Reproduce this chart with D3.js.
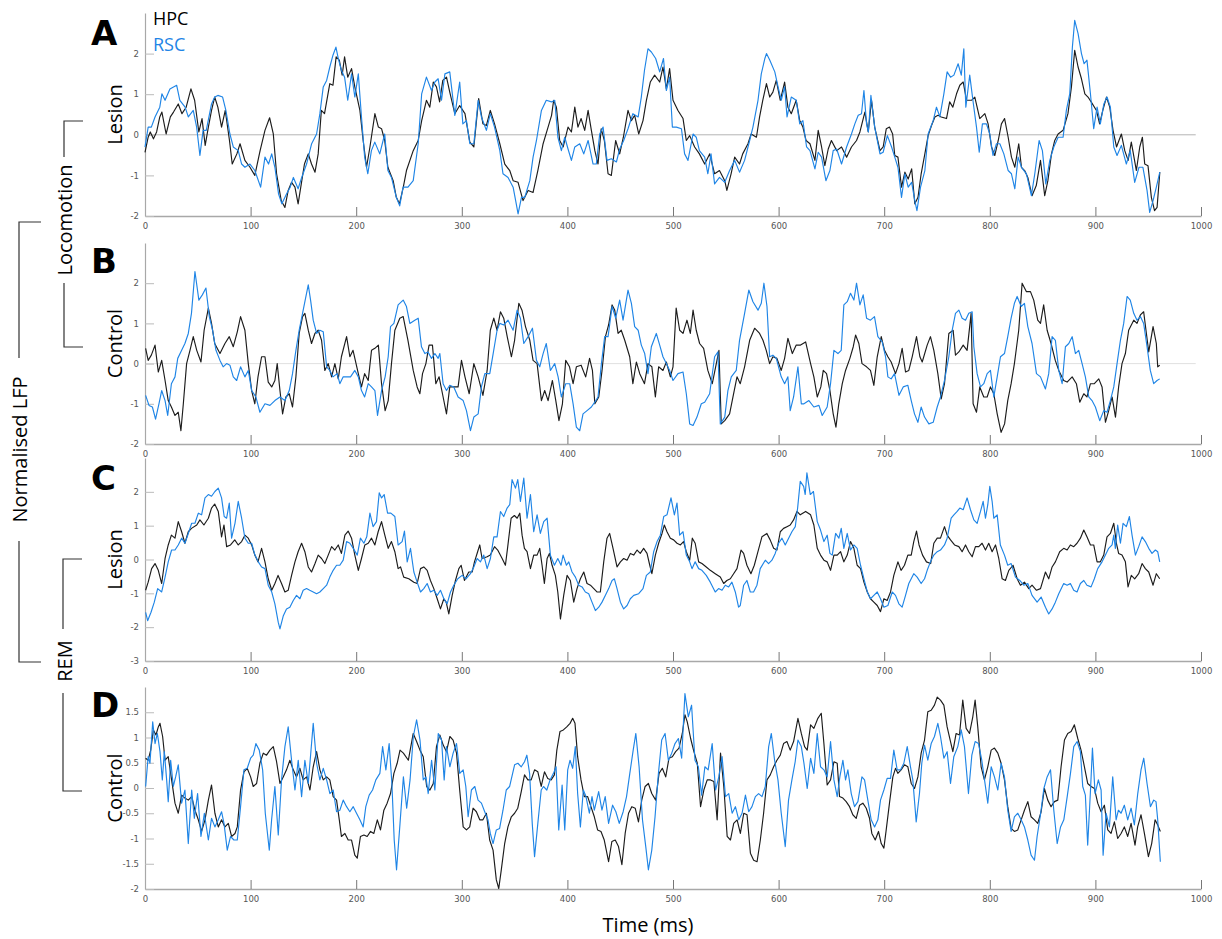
<!DOCTYPE html>
<html>
<head>
<meta charset="utf-8">
<script src="https://cdn.jsdelivr.net/npm/d3@7"></script>
<style>
  body { margin: 0; background: #fff; }
  svg { display: block; }
</style>
</head>
<body>
<div id="chart"></div>
<script>
// LFP traces, [time (ms), normalised value]

// A: locomotion, lesion
let lesionLocoHpc = [[0,-0.43],[3,-0.06],[5,0.07],[8,-0.1],[11,0.07],[14,0.44],[16,0.56],[20,0.02],[24,0.44],[27,0.56],[31.5,0.76],[35,0.52],[39,0.68],[43.5,1.13],[47,0.85],[51,0.07],[54,0.4],[57,-0.26],[60,0.19],[63,0.6],[66,0.93],[69,0.68],[72.5,0.19],[76,0.6],[80,-0.14],[82.6,-0.72],[87,-0.47],[90,-0.22],[94.6,-0.63],[99.4,-0.8],[104,-1.0],[109,-0.39],[113.6,0.11],[118,0.42],[121.5,0.02],[124.6,-0.96],[129,-1.62],[132.5,-1.79],[135.6,-1.37],[138.8,-1.17],[142,-1.29],[145,-1.7],[148,-1.21],[151,-0.72],[154.6,-0.47],[157.7,-0.72],[161,-0.92],[164,-0.47],[167,0.6],[170,0.52],[175,1.26],[178,1.22],[181,1.92],[184,1.84],[186.7,1.47],[189,1.92],[192,1.42],[195.6,1.63],[198.7,1.18],[203.5,0.6],[206.6,-0.14],[209.8,-0.8],[213,-0.3],[217.7,0.52],[221,0.19],[224,0.15],[227,-0.14],[230,-0.8],[235,-1.13],[238,-1.54],[241,-1.7],[244.6,-1.29],[247.6,-0.88],[254,-0.39],[258.7,-0.14],[262,0.35],[266.5,0.85],[269.7,0.68],[273,1.3],[276,1.18],[279,0.81],[282,1.34],[285.5,1.42],[288.6,1.05],[293.4,0.52],[298,0.72],[303,0.52],[307.6,-0.18],[311.4,-0.3],[316,0.89],[320,0.27],[323.3,0.23],[327,0.6],[331,0.27],[336,-0.22],[340.7,-0.72],[345.4,-0.88],[348.6,-1.13],[353.3,-1.17],[358,-1.62],[362.8,-1.37],[367.5,-1.42],[372,-0.88],[377,-0.22],[381.7,0.19],[385,0.48],[387,0.85],[389.6,0.68],[392.7,-0.14],[396,-0.3],[400.6,0.19],[403.8,0.07],[407,0.68],[410,0.19],[413,0.4],[416.4,0.11],[419.6,0.6],[422.7,0.11],[426,-0.39],[429,-0.72],[432,0.15],[435,-0.14],[438.5,-0.96],[441.6,-1.0],[445.7,-0.14],[449.5,-0.47],[453,-0.06],[457.4,0.6],[460.6,0.35],[463.7,0.48],[467.5,0.02],[471.6,0.35],[474.8,0.85],[478.5,1.3],[482.6,1.47],[487.4,1.3],[490.5,1.67],[493.7,1.13],[496.8,1.63],[500,0.85],[504.7,0.6],[509.5,0.4],[512.6,-0.14],[515.8,-0.02],[520.5,-0.3],[525,-0.47],[530,-0.72],[534.7,-0.47],[539.4,-0.96],[544,-0.88],[549,-1.13],[551,-1.37],[555,-0.96],[558.4,-0.55],[563,-0.72],[566,-0.47],[571,-0.22],[574,0.02],[579,-0.06],[582,0.44],[585,0.85],[588.5,1.26],[591.6,0.93],[594.6,1.05],[597.8,1.34],[601.6,0.85],[605.7,1.3],[608.8,0.68],[612,0.52],[616.7,0.85],[620,0.35],[623,0.19],[626,-0.14],[629.7,-0.22],[634.4,-0.63],[637.5,0.11],[640.7,-0.3],[643.8,-0.76],[647,-0.35],[650,-0.14],[655,-0.39],[659.6,-0.3],[664.4,-0.55],[669,-0.3],[673.8,-0.14],[677,0.07],[681.7,0.56],[684.9,0.07],[688,0.85],[691,0.19],[696,-0.39],[699,-0.3],[702,0.15],[705,0.19],[708,0.02],[710,-0.51],[713,-0.55],[716.4,-1.29],[719.6,-0.92],[722.7,-1.09],[726,-0.84],[729,-1.7],[732,-1.54],[735,-0.96],[738.5,-0.47],[741.6,-0.02],[744.8,0.23],[748,0.44],[751,0.48],[754,0.44],[759,0.4],[762,0.81],[765,0.68],[768.5,1.01],[771.6,1.22],[774.8,1.3],[778,0.85],[782.6,0.85],[785.8,0.93],[790.5,0.4],[795.3,0.52],[798.4,0.27],[801.6,-0.3],[804.7,-0.51],[808,-0.14],[811,0.27],[814,0.4],[817.4,-0.06],[820.5,-0.55],[823.7,-0.8],[827.4,-0.22],[830,-0.8],[833,-0.88],[836,-1.05],[840,-1.5],[844,-1.25],[848,-0.63],[852,-1.5],[855,-1.13],[858.4,-0.47],[861.5,-0.14],[864.7,0.02],[869.4,0.11],[874,0.52],[877.3,1.18],[880.4,2.08],[883.6,1.67],[886.8,1.38],[890,1.01],[893,0.93],[896,0.81],[901,0.6],[904,0.27],[907,0.6],[910.5,0.93],[913.6,0.68],[916.7,0.11],[920,-0.3],[924.6,0.02],[927.8,-0.39],[931,-0.63],[934,-0.18],[938.8,-0.88],[942,-0.3],[944.5,-0.06],[946.7,-0.72],[949.8,-0.76],[953,-1.54],[956,-1.87],[958.4,-1.79],[961,-0.92]];
let lesionLocoRsc = [[0,-0.3],[3,0.19],[6,0.19],[9.5,0.44],[14,0.68],[16,1.01],[19,0.85],[23.6,1.13],[27,1.18],[30,1.22],[33,0.85],[38,0.68],[41,0.44],[45.7,0.6],[48.9,0.19],[52,-0.51],[55,0.11],[58,0.11],[63,0.76],[66,0.93],[69,0.97],[73.5,0.93],[76.6,0.6],[80.4,0.02],[83.6,-0.3],[88.3,-0.39],[91.5,-0.72],[94.6,-0.8],[99.4,-0.72],[104,-0.88],[109.5,-1.29],[113.6,-0.55],[117,-0.72],[120,-0.47],[123,-0.8],[126.5,-1.46],[129.6,-1.7],[134,-1.46],[137.5,-1.29],[140.5,-1.05],[145,-1.33],[148.4,-1.05],[153,-0.72],[157.8,-0.22],[162.5,0.02],[165.6,0.52],[168.8,1.18],[172,1.34],[175,1.67],[178,1.96],[180.8,2.16],[183,1.88],[186,1.59],[189,1.42],[192,0.85],[195.6,1.5],[198.7,0.93],[202,1.5],[205,0.44],[208,-0.55],[211,-0.96],[214.4,-0.39],[217.6,-0.18],[222.3,-0.47],[227,0.02],[230,-0.88],[233.4,-1.05],[238,-1.54],[241.2,-1.75],[244.4,-1.29],[249,-1.29],[254,-1.13],[258.7,-0.22],[262,1.01],[266.5,1.42],[271.3,1.09],[274.5,1.3],[277.6,1.38],[280.8,0.85],[284,1.5],[288.6,1.55],[293.4,0.48],[298,1.3],[301,0.27],[304.4,0.35],[307.6,-0.22],[311.4,-0.22],[315.5,0.85],[318.6,0.44],[323.3,0.11],[327,0.52],[331,0.19],[336,-0.39],[339,-0.96],[343.8,-1.05],[348.6,-1.29],[351,-1.62],[353.3,-1.95],[356.5,-1.54],[359.6,-1.54],[364.4,-1.13],[367.5,-0.55],[370.7,-0.14],[375.4,0.6],[380,0.85],[385,0.81],[388,0.85],[391,-0.06],[394.3,-0.39],[397.5,-0.06],[400.6,-0.35],[403.8,-0.63],[407,-0.3],[411.7,-0.22],[415.5,-0.47],[419.6,-0.14],[424.3,-0.72],[427.4,-0.72],[430.6,0.02],[433.8,0.19],[437.5,-0.63],[441.6,-0.59],[446.4,-0.67],[449.5,-0.35],[453.3,-0.14],[457.4,0.15],[462,0.52],[467,0.44],[470,0.93],[473,1.59],[476.3,2.12],[479.5,2.04],[483.6,1.88],[487.4,1.55],[491,1.88],[493.7,1.09],[496.8,1.42],[499.4,0.19],[503.2,0.19],[508,0.15],[511,-0.47],[514.2,-0.63],[519,0.02],[522,-0.06],[525,-0.39],[530,-0.55],[533,-0.96],[536,-0.47],[539.4,-1.21],[544,-1.05],[549,-1.17],[553.6,-0.88],[558.4,-0.63],[563,-0.92],[567.8,-0.63],[572.6,-0.14],[575.7,0.19],[580.5,0.85],[583.6,1.5],[587,1.88],[588.5,2.0],[591.6,1.84],[596.4,1.55],[599.5,1.18],[602.5,0.85],[605.7,1.18],[608,0.44],[612,0.93],[616.7,0.85],[620,0.27],[623,0.35],[626.5,-0.3],[629.7,-0.39],[634.4,-0.84],[637.5,-0.43],[640.7,-0.55],[644.8,-1.13],[648.6,-0.88],[651.7,-0.39],[655,-0.35],[659.6,-0.72],[664.4,-0.3],[669,0.02],[672.2,0.27],[675.4,0.48],[678.5,0.52],[680.8,1.09],[683.3,0.27],[685,0.07],[687.4,0.97],[691,0.19],[696,-0.47],[699,-0.43],[703,-0.02],[707,-0.3],[710,-0.55],[713,-0.8],[716.4,-1.54],[719.6,-0.96],[722.7,-1.29],[726,-1.17],[729,-1.62],[731,-1.87],[734.4,-1.29],[738.5,-0.88],[741.6,0.02],[746.4,0.35],[749.5,0.68],[752.7,0.44],[756.5,1.01],[759.6,1.55],[762.8,1.42],[766,1.47],[770,1.75],[773,1.47],[775.4,2.12],[777.3,0.68],[781,1.47],[784,0.85],[787.4,0.19],[790,-0.43],[793,0.27],[796.8,0.27],[800,0.02],[803,-0.51],[806.3,-0.22],[809.5,-0.22],[813.3,-0.47],[817.4,-0.88],[820.5,-0.96],[823.7,-1.33],[826.8,-0.55],[830,-0.8],[834.7,-0.96],[839.4,-1.5],[842.6,-0.96],[846.7,-0.14],[849.8,-0.39],[853,-1.21],[856.8,-0.63],[860.6,-0.3],[864.7,-0.06],[869.4,-0.06],[872.5,0.6],[875.7,1.01],[878.2,2.16],[880.4,2.82],[883.6,2.49],[886.8,2.0],[889.3,1.75],[892,1.84],[895.3,1.01],[898.4,0.15],[901.6,0.68],[904.7,0.27],[908,0.76],[911,0.93],[914.2,0.68],[917.4,-0.3],[920.5,-0.51],[924.6,-0.26],[929.3,-0.72],[933,-0.39],[937.2,-1.17],[941.3,-0.8],[945,-0.8],[948.9,-1.37],[951.4,-1.91],[954.6,-1.62],[957.7,-1.29],[961,-0.92]];

// B: locomotion, control
let controlLocoHpc = [[0.6,0.38],[3,0.08],[6,0.21],[9.5,0.46],[12.6,-0.21],[15.8,0.08],[19,-0.42],[22,-0.92],[25,-1.08],[28.4,-1.29],[31.5,-1.21],[34,-1.67],[36.3,-1.0],[39.4,0.0],[42.6,0.33],[45.7,0.67],[49,0.33],[53,0.04],[56,0.83],[60,1.38],[63,1.0],[66,0.5],[71,0.25],[75.7,0.5],[79.8,0.67],[83.6,0.42],[87.4,0.79],[90.5,1.17],[94.6,0.83],[97.8,0.0],[101,-0.67],[104,-1.0],[107,-0.33],[110.4,0.17],[113.6,0.17],[116.7,-0.46],[120,-0.58],[123,-0.42],[125.2,0.0],[127.8,-0.67],[130.3,-1.25],[133.4,-0.83],[136.6,-0.75],[139.7,-1.08],[142.9,-0.33],[146,0.75],[149.2,1.17],[151.4,1.25],[154.6,0.83],[157.7,0.5],[160.9,0.75],[164,0.83],[167.2,0.58],[170.3,-0.17],[173.5,0.0],[176.7,-0.33],[179.8,0.0],[183,-0.38],[186,0.17],[190.9,0.67],[194,0.17],[197,0.33],[202,-0.25],[205,-0.58],[208,-0.25],[211.4,-0.42],[214.5,0.33],[217.7,0.38],[221,0.46],[224,-0.5],[227.4,-1.17],[230.3,-0.92],[233.4,0.0],[236.6,0.83],[241.3,1.13],[244.5,1.17],[249,0.58],[254,-0.17],[257.7,-0.58],[260.3,-0.75],[262.8,-0.25],[266,0.0],[269,0.46],[272.2,0.46],[275.4,-0.5],[278.5,-0.33],[281.7,-0.75],[285.5,-1.25],[288.6,-0.58],[292.4,-0.58],[296.5,-0.58],[299.7,0.08],[303,-0.33],[307,-0.75],[311.4,0.0],[315.5,-0.33],[320,-0.79],[324,-0.17],[327,0.83],[330.3,1.13],[333.4,0.83],[336.6,1.29],[339.7,1.13],[343,0.67],[347,0.17],[350,0.58],[354,1.5],[357,1.33],[360.3,0.92],[364.4,0.58],[367.5,0.08],[371.3,0.0],[375.4,-0.92],[378.5,-0.67],[381.7,-0.92],[385.8,-0.42],[389,-0.92],[392,-1.42],[395.3,-1.0],[398.4,0.08],[402,-0.08],[405.4,-0.5],[408.5,-0.08],[413,-0.04],[417.3,-0.33],[421,0.13],[423.7,-0.17],[426,-1.0],[429.7,-0.83],[432.8,-0.17],[436,0.67],[439,0.96],[442.3,1.46],[444.8,1.33],[448,0.75],[451,0.83],[454.3,0.58],[459,0.17],[462,-0.5],[465.3,0.04],[468.5,-0.25],[473,-0.5],[476.3,0.0],[480,-0.08],[483.3,-0.83],[486.4,-0.08],[490.5,-0.17],[493.7,0.04],[497.5,-0.33],[500,-0.08],[503,1.38],[506.3,0.83],[509.5,0.75],[513.2,1.08],[516.4,0.75],[519,1.33],[522,0.83],[525.2,0.5],[529,0.38],[533,-0.17],[537.2,-0.5],[541,0.0],[543.5,0.33],[545.7,-1.5],[549,-1.42],[553.6,-1.25],[556.8,-0.83],[560.6,-0.33],[563.7,-0.5],[567.8,-0.08],[572.6,0.58],[577.3,0.88],[582,0.75],[585.2,0.58],[588.3,0.33],[591.5,0.0],[594.6,0.17],[598.4,0.13],[602.5,-0.17],[605.7,0.13],[608.8,0.63],[613,0.25],[616.7,0.46],[620.8,0.46],[625.6,0.54],[630.3,0.0],[633.4,-0.33],[636.6,-0.83],[640,-0.58],[642.3,-0.17],[645.4,-0.25],[648.6,-0.67],[651.7,-1.25],[654.3,-1.58],[657,-1.0],[660.3,-0.5],[663.4,-0.17],[667.5,0.13],[670.7,0.42],[672.9,0.71],[676,0.5],[679,0.0],[683.3,-0.08],[687,-0.17],[690.2,-0.54],[693.4,0.17],[697.2,0.67],[700.3,0.33],[703.5,0.17],[706.6,0.04],[710.7,-0.25],[714,0.0],[717,0.38],[720.2,-0.21],[723.3,-0.17],[726.5,0.17],[730.6,0.67],[733.8,0.17],[736,0.04],[740.7,0.46],[743.8,0.67],[747,0.33],[750.8,-0.25],[754,-0.88],[757.1,-0.5],[761.2,0.75],[765.3,0.83],[767.5,0.21],[770.7,0.29],[774.8,0.46],[778.5,0.33],[782.3,1.25],[784.2,-1.0],[787.4,-1.21],[790.5,-0.58],[794.3,-0.83],[797.5,-0.83],[800.6,-0.58],[803.8,-0.75],[807,-1.25],[810.7,-1.71],[814,-1.5],[817,-0.92],[820.2,-0.5],[823.3,0.0],[827.4,0.83],[830.6,2.0],[834.7,1.79],[838.5,1.79],[841.6,1.58],[845.4,1.08],[848,1.0],[851,1.46],[854.3,0.83],[858,0.5],[862,0.08],[865.3,-0.17],[870,-0.42],[873.2,-0.46],[878,-0.33],[882,-0.5],[885.2,-0.96],[889,-0.75],[892,-0.83],[895.3,-0.5],[899,-0.5],[903.2,-0.38],[906.3,-0.58],[909.5,-1.46],[912.6,-1.17],[915.8,-0.83],[919,-1.33],[922,-0.58],[925.2,0.0],[928.4,0.25],[931.5,0.83],[936.3,1.08],[939.4,1.0],[942.6,1.21],[945.7,1.29],[948.3,0.75],[950.5,0.29],[954.6,0.92],[957.7,0.5],[959,-0.08],[960.9,-0.04]];
let controlLocoRsc = [[0.6,-0.79],[3.8,-1.04],[7,-1.08],[10,-1.38],[13.2,-1.0],[15.8,-0.67],[19,-0.92],[21.5,-1.29],[25,-0.5],[28.4,-0.33],[31,0.13],[34.7,0.33],[37.8,0.5],[41,0.75],[44,1.25],[47.3,2.29],[51,1.58],[54.3,1.71],[57.7,1.88],[60.9,1.17],[64,0.83],[67.2,0.33],[71,0.08],[74,-0.08],[77.3,0.0],[80.4,-0.04],[83.6,-0.33],[86.8,-0.42],[90.5,-0.08],[94.6,-0.33],[97.8,-0.17],[101,-0.67],[105,-0.83],[108.8,-1.21],[113.6,-1.0],[118.3,-1.04],[123,-0.92],[127.8,-0.83],[132.5,-0.92],[136.6,-0.67],[139.7,-0.25],[142.9,0.33],[146,0.83],[149.8,1.33],[152.4,1.67],[154.6,1.96],[156.8,1.58],[159.3,1.08],[162.5,0.75],[165.6,0.83],[168.8,0.79],[172,-0.08],[175,-0.17],[178,-0.33],[182,-0.25],[184.5,-0.5],[187.7,-0.33],[191,-0.33],[194.6,-0.33],[198.7,-0.17],[202,-0.33],[205,-0.67],[208,-0.83],[211.4,-0.5],[214.5,-0.58],[217.7,-0.67],[220.2,-1.29],[224,-0.67],[227.4,-0.33],[230.3,0.17],[232.5,0.92],[235.7,1.0],[239.7,1.46],[244.5,1.58],[247.6,1.42],[250.8,1.0],[255.5,1.08],[258.7,1.13],[261.8,0.42],[265,0.25],[268,0.29],[271.3,0.13],[274.5,0.25],[277.6,0.13],[279.2,0.25],[282.3,-0.5],[285.5,-0.67],[288.6,-0.54],[292.4,-0.58],[296.5,-0.83],[301.3,-0.92],[304.4,-1.17],[308.2,-1.67],[311.4,-1.33],[315.5,-1.25],[318.6,-0.58],[321.8,-0.25],[326.5,-0.25],[329.7,0.25],[333.4,0.83],[336,1.0],[339.7,0.96],[343.8,1.08],[348.6,0.83],[352.4,1.33],[355.5,1.13],[358.7,0.5],[362.8,0.67],[366.9,0.88],[370.7,0.08],[373.8,-0.08],[377,0.25],[380,0.5],[383.9,-0.17],[388,0.0],[391.2,-0.33],[394.3,-0.83],[398.4,-0.5],[402.2,-0.5],[405.4,-1.0],[408.5,-1.58],[411.7,-1.67],[414.8,-1.25],[418.6,-1.17],[422.7,-1.08],[425.9,-0.96],[429,-0.83],[432.2,0.0],[435.3,0.67],[438.5,0.67],[442.3,1.42],[445.7,1.13],[449.5,1.58],[452.7,1.08],[457.4,1.83],[460.6,1.5],[463.7,0.92],[467,0.83],[470,0.46],[473.2,0.25],[476.3,-0.25],[479.5,0.42],[484.2,0.75],[487.4,0.46],[490.5,0.17],[493.7,0.0],[496.8,-0.17],[500,-0.42],[504.7,-0.25],[509.5,-0.21],[512.6,-0.75],[515.8,-1.5],[519,-1.54],[522.7,-1.33],[526.8,-1.0],[530,-0.96],[534.7,-0.75],[539.4,0.17],[542.6,0.29],[544.8,-1.5],[549,-1.33],[552,-0.67],[555.2,-0.33],[559.9,-0.17],[563,0.58],[567.8,1.25],[571.8,1.83],[575.7,1.54],[580.5,1.33],[583.6,1.5],[586.1,2.0],[589,1.42],[591.5,0.17],[594.6,0.21],[597.8,0.13],[602.5,-0.33],[605.7,-0.5],[608.8,-0.33],[611,-1.17],[614.2,-0.83],[618.3,-0.08],[621.5,-1.0],[624,-1.0],[628.7,-0.92],[633.4,-1.08],[638.2,-1.04],[641.3,-1.29],[646,-1.08],[649.2,-0.5],[652.4,0.33],[656.2,0.25],[659.3,0.33],[661.8,1.46],[665,1.54],[668.1,1.75],[671.3,1.58],[673.8,2.0],[677,1.46],[680.1,1.71],[683.3,1.13],[687,1.08],[690.8,1.17],[694,0.67],[698.1,0.54],[701.3,0.17],[703.5,-0.33],[706.6,-0.38],[709.8,-0.25],[714,-0.79],[718,-0.58],[722.4,-0.54],[725.6,-0.92],[728.7,-1.25],[731.9,-1.46],[735,-1.08],[738.2,-1.33],[742.3,-1.5],[746.4,-1.46],[750.2,-1.08],[753.3,-0.83],[757.1,-0.42],[761.2,0.17],[764.4,0.83],[767.5,1.25],[770.7,1.33],[773.8,1.13],[777,1.08],[780.1,1.25],[783.3,1.29],[784.9,0.42],[788,-0.25],[791.2,-0.58],[794.3,-0.5],[797.5,-0.25],[800.6,-0.17],[803.8,-0.83],[807,-0.33],[810.1,0.17],[813.9,0.25],[817,0.67],[820.2,1.13],[823.3,1.5],[825.9,1.67],[829.7,1.42],[832.8,1.5],[836,0.92],[840,0.5],[844.2,-0.25],[848,-0.33],[852.7,-0.63],[855.8,-0.25],[859,0.67],[862.1,0.58],[865.3,-0.17],[868.5,-0.5],[871.6,0.42],[874.8,0.5],[878,0.67],[881.1,0.25],[884.2,0.33],[887.4,0.0],[890.5,-0.33],[893.7,-0.83],[896.8,-0.92],[900,-1.08],[904.1,-1.42],[907.9,-1.17],[911,-1.21],[914.2,-0.92],[917.4,-0.58],[920.5,0.0],[923.7,0.58],[926.8,1.0],[930,1.67],[933,1.58],[936.3,1.25],[939.4,1.08],[942.6,1.17],[945.7,1.0],[948.9,0.42],[952,-0.17],[955.2,-0.5],[958.4,-0.42],[960.9,-0.38]];

// C: REM, lesion
let lesionRemHpc = [[0.6,-0.91],[3,-0.67],[6.3,-0.27],[9.5,-0.12],[12.6,-0.32],[15.8,-0.71],[19,0.03],[22,0.43],[25,0.72],[28.4,0.63],[31.5,1.12],[34.7,0.82],[37.8,0.48],[41,0.82],[44,0.92],[49,1.02],[52,1.17],[55.8,1.02],[60,1.22],[63,1.52],[66,1.64],[69.4,1.42],[72.5,0.67],[74.8,1.02],[77.3,0.38],[81,0.43],[85,0.58],[88.3,0.43],[91.5,0.53],[94.6,0.72],[97.8,0.63],[101,0.43],[104,0.13],[107,-0.07],[110.4,0.33],[113.6,-0.07],[116.7,-0.57],[120,-0.91],[123,-0.71],[126,-0.47],[129.3,-0.71],[132.5,-0.96],[135.6,-0.91],[138.8,-0.47],[142,-0.07],[145,0.23],[148.3,0.48],[151.4,0.23],[154.6,-0.22],[157.7,-0.37],[161,-0.12],[164,0.13],[167.2,0.03],[170.3,-0.12],[173.5,0.13],[176.7,0.38],[179.8,0.28],[183,0.43],[186,0.18],[189.3,0.72],[192.4,0.84],[195.6,0.63],[198.7,0.13],[202,-0.32],[205,0.03],[208.2,0.43],[211.4,0.48],[214.5,0.63],[217.7,0.43],[220.8,0.82],[224,1.12],[227.1,0.72],[230.3,0.33],[233.4,0.53],[236.6,0.23],[239.7,-0.27],[242,-0.22],[245,-0.52],[249.8,-0.57],[254.6,-0.67],[257.7,-0.71],[260.9,-0.27],[264,-0.22],[267.2,-0.32],[270.3,-0.62],[273.5,-0.86],[276.7,-1.16],[279.8,-1.46],[283,-1.16],[285.2,-1.26],[287.7,-1.61],[290.9,-1.06],[294,-0.62],[297.2,-0.27],[299.4,-0.17],[302.5,-0.62],[306.6,-0.37],[309.8,-0.37],[312,-0.07],[315,0.23],[317,0.43],[319.2,0.03],[324,0.08],[327,0.13],[331,0.38],[334,0.28],[338.2,0.03],[341.3,-0.17],[343.5,0.38],[346.7,1.22],[349.8,1.3],[352.4,1.22],[354.9,1.37],[357.1,0.72],[359.3,0.33],[361.8,0.23],[365,-0.27],[368.1,0.13],[371.3,0.13],[373.8,0.33],[376,-0.17],[378.2,-0.71],[380.8,0.03],[383,0.18],[385.5,-0.17],[388.6,-0.47],[390.9,-0.96],[393.4,-1.76],[396.5,-1.06],[399.7,-0.47],[402.8,-0.62],[406,-1.26],[409.1,-0.86],[412.3,-0.57],[415.5,-0.37],[418.6,-0.71],[421.8,-0.76],[425,-0.86],[428,-0.96],[431.2,-0.96],[434.4,-0.07],[437.5,0.63],[440,0.77],[443.2,0.33],[447,-0.22],[450.2,-0.07],[453.3,0.03],[456.5,-0.02],[459.6,0.18],[462.8,0.13],[466,0.28],[469,0.18],[472.2,0.33],[475.4,0.18],[478,-0.17],[480,-0.42],[483.3,0.13],[486.4,0.48],[489.6,0.77],[491.8,1.02],[494.3,0.82],[497.5,0.63],[500.6,0.58],[503.8,0.48],[507,0.43],[510,0.53],[512.6,0.23],[515.8,-0.02],[518.3,0.63],[521,0.48],[524.3,-0.07],[527.4,-0.12],[531.5,-0.22],[535.3,-0.32],[540,-0.42],[544.8,-0.52],[548,-0.71],[551,-0.62],[554.3,-0.57],[557.4,-0.42],[560.6,-0.27],[564.4,0.28],[566.9,0.18],[570,-0.17],[573.8,-0.42],[577,-0.17],[580,0.18],[584.2,0.67],[588.9,0.77],[592,0.58],[595.3,0.33],[598.4,0.28],[601.6,0.82],[604.7,0.92],[607.9,0.97],[611,1.02],[614.2,1.17],[617.4,1.42],[620.5,1.32],[625.6,1.42],[630.3,1.32],[633.4,1.02],[636.6,0.33],[639.7,0.13],[642.9,-0.02],[646,-0.07],[649.2,-0.32],[652.4,0.13],[655.5,0.13],[658.7,0.23],[661.8,-0.07],[665,0.13],[668.1,0.53],[671.3,0.33],[674.4,-0.17],[677.6,-0.27],[680.8,-0.67],[684,-0.96],[687,-1.16],[690.2,-1.26],[693.4,-1.36],[696.5,-1.54],[699.7,-1.16],[702.8,-1.21],[706,-0.96],[709.1,-0.47],[713,-0.07],[716,-0.32],[719.2,-0.17],[722.4,0.13],[725.6,0.13],[728,0.53],[730.6,0.84],[733,0.43],[736.3,0.13],[740,-0.07],[744,-0.12],[747,0.48],[750.2,0.63],[753.3,0.63],[757.1,0.97],[759.6,0.72],[762.8,0.58],[766.6,0.43],[770.7,0.38],[773.8,0.23],[777,0.43],[780.1,0.23],[783.3,0.08],[786.4,0.38],[789.6,0.38],[792.7,0.48],[795.9,0.28],[799,0.48],[802.2,0.23],[805.4,0.43],[808.5,0.03],[811.7,-0.57],[814.8,-0.62],[818,-0.32],[822,-0.17],[825.9,-0.57],[829,-0.76],[832.8,-0.67],[836.9,-0.86],[840,-0.76],[844.2,-0.91],[848,-0.86],[852.7,-0.37],[855.8,-0.57],[859,-0.22],[862.1,-0.07],[866.2,0.23],[870,0.33],[873.2,0.28],[876.3,0.43],[879.5,0.38],[882.6,0.48],[885.8,0.63],[889,0.87],[892,0.67],[895.3,0.43],[898.4,0.43],[901.6,-0.07],[904.7,-0.07],[907.9,0.13],[911,0.67],[914.2,0.77],[917.4,1.07],[919.9,0.48],[922,0.18],[925.2,0.13],[928.4,-0.07],[930.9,-0.81],[934,-0.47],[937.2,-0.57],[941,-0.42],[944.2,-0.12],[947.3,-0.27],[950.5,-0.37],[954.6,-0.76],[957.7,-0.42],[960.9,-0.57]];
let lesionRemRsc = [[0.6,-1.56],[2.5,-1.81],[5.7,-1.56],[8.8,-1.26],[12,-0.86],[15.8,-0.96],[19,-0.52],[22,-0.07],[25.2,0.28],[28.4,0.28],[31.5,0.43],[34.7,0.63],[37.8,0.48],[41,0.77],[44.2,1.07],[47.3,1.07],[50.5,1.37],[53.6,1.32],[56.8,1.82],[60,1.92],[63,1.87],[66.2,2.01],[69.4,2.11],[72.5,1.82],[75,1.27],[77.3,1.22],[79.8,1.67],[82,0.63],[85.2,1.07],[88.3,1.72],[91.5,1.22],[94.6,0.63],[97.8,0.48],[101,0.48],[104.1,0.13],[107.3,-0.07],[110.4,-0.22],[113.6,-0.27],[116.7,-0.76],[120,-0.96],[123,-1.31],[126.2,-1.86],[127.8,-2.05],[131,-1.66],[134,-1.46],[137.2,-1.41],[140.4,-1.21],[143.5,-1.06],[146.7,-1.16],[149.8,-0.91],[153,-0.86],[156,-0.91],[159.3,-0.96],[162.5,-1.01],[165.6,-0.96],[168.8,-0.86],[172,-0.76],[175,-0.52],[178.2,-0.32],[181.4,-0.17],[184.5,-0.17],[187.7,-0.02],[190.9,0.53],[194,0.48],[197.2,0.33],[201,0.13],[204,0.63],[207.3,0.48],[210,0.67],[213,1.37],[216,0.97],[219.2,1.12],[221.8,1.97],[224,1.82],[226.5,1.92],[229.7,1.37],[232.8,1.37],[236.6,1.27],[239.7,0.43],[243.5,0.53],[245.7,0.84],[248.3,-0.07],[251.4,0.33],[254.6,-0.37],[257.7,-0.67],[260.9,-0.96],[264,-0.86],[267.2,-0.71],[270.3,-0.96],[273.5,-0.91],[276.7,-1.06],[279.8,-0.91],[283,-1.16],[286.1,-1.31],[289.3,-0.96],[292.4,-0.76],[296.2,-0.57],[300.3,-0.47],[304,-0.57],[308.2,-0.42],[311.4,-0.22],[314.5,0.03],[317.7,-0.07],[320.8,0.13],[324,-0.27],[327.1,0.03],[330.3,0.67],[333.4,0.67],[336.6,1.42],[339.7,1.27],[342.9,1.52],[345.4,1.62],[347.6,2.36],[350.8,2.11],[353,2.36],[355.5,1.72],[358.7,2.41],[361.8,1.22],[365,1.92],[368.1,0.82],[371.3,1.32],[374.4,0.77],[377.6,1.12],[380.8,1.22],[383.9,0.13],[387.7,-0.17],[390.9,0.03],[394,-0.17],[395.9,0.13],[399.1,-0.17],[401.3,-0.07],[404.4,-0.37],[407.6,-0.52],[410.7,-0.76],[413.9,-0.81],[417,-0.96],[420.2,-1.01],[423.3,-1.26],[426.5,-1.51],[429.7,-1.41],[432.8,-1.26],[436,-1.06],[439.1,-0.86],[442.3,-0.62],[444.5,-0.57],[447,-0.86],[450.2,-1.26],[453.3,-1.46],[456.5,-1.36],[459.6,-1.16],[462.8,-1.06],[467.5,-1.01],[471.6,-0.86],[474.8,-0.47],[478.5,-0.37],[481.7,0.23],[484.9,0.53],[488,0.72],[491.2,1.27],[494.3,1.32],[498.1,1.82],[501.3,1.32],[503.8,1.67],[506.3,0.72],[509.5,0.82],[512.6,0.13],[515.8,-0.07],[518,-0.27],[521,-0.07],[524.3,-0.27],[527.4,-0.32],[531.5,-0.47],[535.3,-0.67],[540,-0.96],[543.2,-0.86],[546.4,-0.91],[549.5,-0.76],[552.7,-0.81],[555.8,-0.67],[559,-0.96],[562.1,-1.41],[563.7,-1.36],[566.9,-0.76],[570,-0.62],[573.2,-0.96],[576.3,-0.96],[579.5,-0.76],[582.6,-0.27],[587.4,-0.02],[590.5,-0.12],[593.7,-0.02],[596.8,0.18],[600,0.48],[603.2,0.63],[606.3,0.43],[609.5,0.63],[612.6,0.82],[615.8,0.97],[618,1.52],[620.5,2.31],[623.7,2.16],[625.2,1.92],[626.8,2.56],[630,1.92],[633,2.01],[636.6,1.12],[639.7,0.87],[642.9,0.53],[646,0.72],[648.6,0.18],[650.8,0.13],[654,0.77],[657.1,0.63],[659.3,0.92],[661.8,0.33],[665,0.77],[668.1,0.28],[671.3,0.43],[674.4,0.33],[677.6,-0.17],[680.8,-0.57],[684,-0.96],[687,-1.16],[690.2,-1.06],[693.4,-0.96],[696.5,-1.16],[699.7,-1.41],[703.5,-1.36],[707.6,-0.96],[710.7,-1.06],[713.9,-1.31],[717,-1.41],[720.2,-1.06],[723.3,-0.71],[728,-0.42],[731.2,-0.52],[735,-0.71],[738.2,-0.57],[740.7,-0.32],[743.8,-0.07],[747,0.13],[750.2,0.23],[753.3,0.28],[757.1,0.43],[759.6,0.63],[763.4,1.22],[766,1.32],[769.1,1.42],[771.6,1.52],[774.8,1.47],[778.5,1.82],[781.7,1.47],[784.9,1.17],[788,1.07],[791.2,1.42],[793.7,1.72],[795.9,1.22],[798.1,1.62],[800,2.16],[802.2,1.72],[803.8,1.22],[807,1.32],[810,0.43],[813.9,0.13],[817,-0.17],[820.2,-0.12],[824.3,-0.52],[828.4,-0.62],[832.2,-0.76],[836,-0.71],[840,-1.06],[844.8,-1.26],[848.6,-1.11],[852.7,-1.41],[855.8,-1.61],[859,-1.46],[862.1,-1.26],[865.3,-1.01],[870,-0.71],[873.2,-0.76],[876.3,-0.71],[879.5,-0.91],[882.6,-0.96],[885.8,-0.71],[889,-0.62],[892,-0.76],[895.9,-0.81],[899,-0.57],[902.2,-0.27],[906.3,-0.07],[909.5,0.13],[912.6,0.33],[915.8,0.43],[917.4,0.72],[918.9,0.33],[921.1,1.02],[923.7,0.48],[926.2,1.07],[929.3,0.97],[932.2,1.27],[934.7,0.72],[937.9,0.13],[941,0.38],[944.2,0.67],[947.3,0.53],[950.5,0.33],[953.6,0.18],[956.8,0.28],[959,0.23],[960.9,-0.07]];

// D: REM, control
let controlRemHpc = [[0.6,0.59],[3,0.55],[5.4,0.75],[7.9,1.15],[10.4,1.05],[12.6,1.21],[14.2,1.28],[16.7,1.02],[19,0.55],[22,0.62],[25.2,0.16],[28.4,-0.3],[31.5,-0.5],[34.7,-0.14],[37.8,-0.2],[41,-0.24],[44.2,-0.17],[47.3,-0.44],[50.5,-0.63],[53.6,-0.86],[56.8,-0.63],[60,-0.24],[63,0.06],[66.2,-0.5],[69.4,-0.77],[72.5,-0.63],[75.7,-0.77],[78.9,-0.7],[82,-0.96],[85.2,-0.9],[87.4,-0.77],[90.5,-0.04],[93.7,0.32],[96.8,0.39],[100,0.22],[102.5,0.03],[105.7,0.09],[108.8,0.49],[112,0.69],[115.1,0.65],[118.3,0.75],[121.5,0.82],[124.6,0.52],[127.8,0.09],[130.9,0.22],[134,0.36],[137.2,0.55],[140.4,0.36],[143.5,0.22],[146.7,0.39],[149.8,0.16],[153,0.22],[156.2,-0.04],[159.3,0.42],[162.5,0.72],[165.6,0.36],[168.8,0.16],[172,0.22],[175,0.16],[178.2,-0.17],[181.4,-0.24],[184,-0.63],[186,-0.96],[189.3,-0.9],[192.4,-1.03],[195.6,-1.03],[198.7,-1.33],[201,-1.39],[204,-0.96],[207.3,-0.93],[210.4,-0.96],[213.6,-0.86],[216.7,-0.9],[220,-0.63],[223,-0.83],[226.2,-0.44],[229.3,-0.3],[232.5,-0.11],[235.7,0.29],[238.8,0.49],[241.5,0.75],[244.7,0.69],[249.4,0.55],[254,1.08],[257.2,0.92],[260.4,0.75],[263.5,0.62],[266.7,0.03],[269.8,-0.04],[273,0.09],[276,0.82],[279.2,1.05],[282.4,0.85],[285.5,0.72],[288.7,1.02],[291.8,0.95],[295,0.69],[298,-0.04],[301.3,-0.77],[304.4,-0.83],[307.5,-0.77],[310.7,-0.4],[313.8,-0.47],[317,-0.63],[320,-0.63],[323.3,-0.5],[326.4,-1.03],[329.6,-1.23],[332.7,-1.82],[335,-1.99],[337.4,-1.62],[340.6,-1.1],[343.7,-0.77],[346.9,-0.57],[350,-0.5],[353,-0.4],[356.3,-0.07],[359.4,0.26],[362.6,0.16],[365.7,0.16],[368.9,0.36],[372,0.32],[375.2,0.03],[378.3,0.32],[381.4,0.19],[384.6,0.16],[387.7,0.26],[390,0.75],[393,1.12],[396.2,1.15],[399.4,1.21],[402.5,1.28],[405,1.38],[407.2,1.28],[409.7,0.62],[412.9,0.16],[416,-0.17],[419.2,-0.17],[422.3,-0.37],[425.5,-0.57],[428.6,-0.83],[431.8,-0.86],[434.9,-1.03],[439,-1.46],[442.1,-1.06],[445.3,-1.03],[448.4,-1.16],[451.6,-1.52],[454.7,-0.9],[457.9,-0.5],[461,-0.37],[464.2,-0.4],[467.3,-0.67],[470.4,-0.24],[473.6,0.03],[476.7,0.09],[479.9,-0.11],[483.6,-0.24],[486.8,0.29],[489.9,0.39],[493.1,0.22],[496.2,0.59],[499.4,0.62],[502.5,0.72],[505.7,0.79],[508.8,1.08],[511.3,1.45],[513.5,1.31],[516.7,0.98],[519.8,0.72],[523,0.49],[526.1,-0.37],[529.2,-0.04],[532.4,0.16],[535.5,0.16],[538.7,0.13],[541.8,-0.63],[545,0.69],[548.1,0.03],[551.3,-0.96],[554.4,-1.03],[557.5,-0.7],[560.7,-0.63],[563.8,-0.9],[567,-0.5],[570.1,-0.53],[573.3,-1.29],[576.4,-1.43],[579.6,-1.46],[582.7,-1.03],[585.8,-0.5],[589,0.16],[592.1,0.26],[595.3,0.42],[598.4,0.55],[601.6,0.65],[604.7,0.88],[607.9,0.92],[611,0.75],[614.2,0.92],[618.3,1.38],[621.5,1.08],[624.6,0.82],[627.1,0.75],[630.3,1.25],[633.4,1.18],[637.2,1.38],[640.4,1.48],[642.9,0.88],[646,0.06],[649.2,0.16],[652.4,0.52],[655.5,0.49],[657.7,-0.17],[660.9,-0.2],[664,-0.27],[667.2,-0.37],[670.3,-0.53],[673.5,-0.6],[676.7,-0.34],[679.8,-0.3],[683,-0.4],[686.1,-0.6],[688.3,-0.9],[691.5,-1.03],[694.6,-0.86],[697.2,-1.1],[699.7,-1.19],[701.9,-0.83],[705,-0.3],[708.2,0.22],[710.7,0.39],[712.9,0.29],[716,0.36],[719.2,0.46],[722.4,0.42],[725.6,0.09],[728.7,-0.01],[731.9,0.22],[735,0.69],[738.2,0.95],[741.3,1.51],[744.5,1.54],[747.6,1.64],[750.2,1.8],[753.3,1.74],[756.5,1.64],[759.6,1.21],[762.8,0.92],[765,0.72],[768.1,1.08],[771.3,1.05],[774.4,1.74],[777.6,1.18],[780.8,1.08],[783.9,1.41],[786.1,1.74],[788.6,1.21],[791.8,0.42],[794.9,0.16],[798.1,0.42],[801.3,0.75],[804.4,0.79],[807.6,0.69],[810.7,0.49],[813.9,0.16],[817,-0.37],[820.2,-0.8],[823.3,-0.86],[826.5,-0.83],[829.7,-0.63],[832.8,-0.44],[836,-0.27],[839.1,-0.57],[842.3,-0.63],[845.4,-0.7],[848.6,-0.47],[851.7,-0.01],[854.9,-0.24],[858,-0.37],[861.2,-0.27],[864.4,-0.24],[867.5,0.42],[870.7,0.95],[873.8,1.08],[877,1.12],[880.1,1.25],[883.3,0.98],[886.4,0.75],[889.6,0.42],[892.7,0.09],[895.9,0.03],[899.1,-0.01],[902.2,-0.3],[905.4,-0.47],[908.5,-0.34],[911.7,-0.83],[914.8,-0.9],[918,-0.67],[921.1,-1.0],[924.3,-0.9],[927.4,-0.77],[930.6,-0.96],[933.8,-0.7],[937.5,-1.13],[940,-0.77],[943.2,-0.53],[946.4,-0.9],[950.2,-1.36],[953.3,-1.1],[956.5,-0.63],[959,-0.73],[961.5,-0.86]];
let controlRemRsc = [[0.6,0.03],[3,0.62],[4.7,0.49],[7.3,1.31],[9.5,0.88],[11.7,1.08],[14.2,0.72],[16.4,0.16],[18.3,0.72],[20.5,0.16],[22,-0.27],[24.3,0.55],[26.8,0.03],[29,0.22],[31.5,0.46],[34.7,-0.3],[37.8,-0.04],[41,-1.1],[44.2,-0.04],[46.7,-0.6],[49.8,-0.11],[53,-0.96],[56.2,-0.5],[60,-1.03],[63,-0.6],[66.2,-0.77],[69.4,-0.63],[72.5,-0.47],[74.8,-0.7],[77.9,-1.23],[81,-0.96],[84.2,-1.03],[87.4,-1.03],[90.5,-0.37],[93.7,0.36],[96.8,0.39],[100,0.59],[102.5,0.65],[105,0.88],[108.2,0.75],[111.4,0.36],[113.9,-0.5],[117.7,-1.23],[119.9,-0.63],[123,0.03],[126.2,-0.93],[129.3,0.16],[132.5,0.82],[135.6,1.21],[138.8,0.55],[142,-0.04],[145.1,0.55],[148.3,-0.17],[151.4,0.55],[154.6,0.09],[159.3,1.28],[162.5,0.49],[165.6,0.16],[168.8,0.39],[172,0.16],[175.1,-0.11],[178.2,-0.04],[181.4,-0.47],[184.5,-0.44],[187.7,-0.24],[190.9,-0.37],[194,-0.47],[197.2,-0.37],[200.3,-0.5],[203.5,-0.63],[206.6,-0.77],[209.1,-0.37],[212.3,-0.14],[215.5,-0.04],[218.6,0.16],[222.4,0.29],[225,0.82],[228.1,0.36],[231.2,0.88],[233.8,0.09],[236,-1.03],[238.2,-1.62],[241.5,-0.7],[244.7,0.22],[247.8,-0.4],[251,0.16],[254.1,1.02],[257.2,1.35],[260.4,0.95],[263.5,0.16],[266,0.22],[268.2,-0.11],[271.4,0.55],[274.5,-0.04],[277.7,1.08],[280.8,0.95],[283.3,0.16],[285.5,0.82],[288.7,0.42],[291.8,0.69],[295,0.88],[298.1,0.29],[301.3,0.36],[303.8,0.03],[306,-0.57],[309.1,-0.04],[312.3,0.03],[315.4,-0.24],[318.6,-0.3],[321.7,-0.47],[324.8,-0.63],[327,-0.9],[329.6,-1.1],[332.7,-0.83],[335.8,-0.8],[339,-0.44],[342.1,-0.04],[345.3,0.03],[350,0.46],[353.1,0.49],[356.3,0.42],[359.4,0.52],[361.6,0.65],[364.2,0.29],[366.7,-0.7],[368.9,-1.36],[372,-0.7],[375.2,-0.04],[377.4,0.03],[380.5,-0.04],[383.6,0.16],[386.8,0.29],[389.3,0.42],[391.8,-0.83],[395,0.06],[397.5,-0.83],[400.3,0.36],[402.5,0.55],[405,0.39],[407.5,0.82],[409.7,-0.11],[412.3,-0.77],[415.1,-0.04],[417.6,-0.17],[420.8,-0.5],[423.3,-0.17],[425.5,-0.44],[429.6,-0.07],[432.7,-0.44],[435.8,-0.17],[439,-0.7],[442.8,-0.34],[445.9,-0.47],[449.1,-0.7],[452.8,-0.47],[456,-0.17],[459.1,0.29],[462.3,0.75],[464.8,1.08],[467.9,0.42],[471.1,-0.63],[474.2,-1.16],[476.7,-1.62],[479.9,-1.23],[483,-0.57],[486.2,0.29],[489.3,0.95],[492.5,1.08],[495.6,0.55],[498.8,0.69],[501.9,0.88],[505.1,0.98],[508.2,0.59],[511.3,1.87],[514.5,1.41],[517.6,1.64],[520.8,0.55],[524,0.42],[527.1,-0.14],[530.2,0.42],[533.3,0.36],[537.1,0.88],[540.3,-0.04],[543.4,0.22],[546.5,0.62],[549.7,-0.17],[552.8,-0.11],[556,-0.5],[559.1,-0.37],[562.3,-0.63],[565.4,-0.5],[568.6,-0.14],[571.7,-0.47],[574.8,-0.37],[578,-0.17],[581.1,-0.11],[584.3,-0.17],[587.4,0.03],[590.6,0.82],[593.1,1.08],[596.2,0.55],[599.4,0.16],[602.5,-0.5],[606.3,-1.16],[609.4,-0.24],[612.6,0.16],[615.7,0.52],[618.3,0.95],[621.5,0.82],[624,0.49],[627.1,-0.01],[630.3,0.59],[633.4,0.29],[636.6,1.08],[639.7,0.42],[642.9,0.36],[646,0.22],[649.2,0.92],[652.4,0.16],[655.5,-0.17],[658,0.22],[660.9,0.55],[663.4,0.16],[665.6,0.36],[668.8,-0.11],[671.9,-0.37],[675.1,-0.27],[678.9,0.22],[681.4,0.16],[684.5,-0.24],[687.7,-0.63],[690.9,-0.77],[694,-0.63],[696.5,-0.24],[699.7,-0.04],[702.8,0.19],[706,0.19],[709.1,0.75],[712.3,0.36],[715.5,0.36],[718.6,0.49],[721.8,0.82],[724.9,0.42],[727.1,0.16],[730.3,-0.67],[733.4,-0.11],[735.6,0.49],[738.2,0.85],[741.3,0.55],[744.5,0.88],[747.6,1.02],[750.8,1.28],[753.3,1.02],[756.5,0.59],[759.6,0.72],[762.8,0.09],[765.9,0.62],[769.7,0.82],[772.9,1.15],[776,0.82],[779.8,-0.11],[783,0.65],[786.1,0.92],[789.3,0.88],[792.4,0.55],[795,0.16],[798.1,-0.3],[801.3,0.42],[804.4,0.22],[807.6,-0.04],[810.7,0.49],[813.9,0.22],[817,-0.44],[820.2,-0.86],[823.3,-0.57],[826.5,-0.5],[829.7,-0.63],[832.8,-0.77],[836,-1.03],[839.1,-1.33],[842.3,-1.43],[844.8,-0.96],[848,-0.53],[851.2,-0.01],[854.3,0.22],[857.5,0.36],[860.6,-0.44],[863.8,-1.1],[867,-0.77],[870.1,-0.63],[873.3,-0.17],[876.4,0.29],[879.5,0.82],[882.7,0.92],[885.8,0.72],[888,0.03],[890.5,-0.14],[892.7,-1.13],[895.2,-0.11],[897.2,0.79],[899.7,-0.11],[902.8,0.16],[905.4,-0.04],[907.3,-1.33],[910.1,-0.5],[913.3,-0.77],[916.4,0.22],[919.6,-0.63],[921.8,-0.44],[924.3,-0.5],[927.4,-0.34],[930.6,-0.63],[933.8,-0.4],[936.9,-0.73],[940.1,-0.11],[943.2,0.36],[945.8,0.59],[948.9,0.09],[952.1,-0.37],[955.2,-0.24],[957.4,-0.27],[959,-0.63],[961.5,-1.46]];

// ticks
let xTicks = [0,100,200,300,400,500,600,700,800,900,1000];
let yTicksAB = [-2,-1,0,1,2];
let yTicksC = [-3,-2,-1,0,1,2];
let yTicksD = [-2,-1.5,-1,-0.5,0,0.5,1,1.5];

let panelLetters = ["A","B","C","D"];
let groupLabels = ["Lesion","Control","Lesion","Control"];
let seriesNames = ["HPC","RSC"];

const hpcColor = "#1c1c1c";
const rscColor = "#1f85e6";

let svg = d3.select("#chart").append("svg")
  .attr("width", 1222)
  .attr("height", 939)
  .style("background", "#fff");

let panels = [
  {hpc: lesionLocoHpc,  rsc: lesionLocoRsc,  domain: [-2,3], ticks: yTicksAB, top: 13,  bottom: 216, zero: "#b4b4b4", letterY: 45},
  {hpc: controlLocoHpc, rsc: controlLocoRsc, domain: [-2,3], ticks: yTicksAB, top: 243, bottom: 444, zero: "#e0e0e0", letterY: 273},
  {hpc: lesionRemHpc,   rsc: lesionRemRsc,   domain: [-3,3], ticks: yTicksC,  top: 458, bottom: 661, zero: null,      letterY: 490},
  {hpc: controlRemHpc,  rsc: controlRemRsc,  domain: [-2,2], ticks: yTicksD,  top: 687, bottom: 889, zero: null,      letterY: 717}
];

let x = d3.scaleLinear().domain([0,1000]).range([145,1201]);

panels.forEach(function(p, i) {
  let y = d3.scaleLinear().domain(p.domain).range([p.bottom, p.top]);
  let g = svg.append("g");

  if (p.zero) {
    g.append("line")
      .attr("x1", x(0)).attr("x2", x(995))
      .attr("y1", y(0)).attr("y2", y(0))
      .attr("stroke", p.zero).attr("stroke-width", 1);
  }

  // x axis, ticks pointing inwards
  let xAxis = g.append("g")
    .attr("transform", "translate(0," + p.bottom + ")")
    .call(d3.axisBottom(x).tickValues(xTicks).tickSizeInner(-9).tickSizeOuter(0).tickPadding(7)
      .tickFormat(d => String(d)));
  xAxis.select(".domain").attr("stroke", "#a8a8a8").attr("stroke-width", 1.6);
  xAxis.selectAll(".tick line").attr("stroke", "#777");

  let yAxis = g.append("g")
    .attr("transform", "translate(" + x(0) + ",0)")
    .call(d3.axisLeft(y).tickValues(p.ticks).tickSizeInner(-9).tickSizeOuter(0).tickPadding(6)
      .tickFormat(d => String(d)));
  yAxis.select(".domain").attr("stroke", "#a8a8a8").attr("stroke-width", 1.2);
  yAxis.selectAll(".tick line").attr("stroke", "#bbb");

  g.selectAll(".tick text")
    .attr("fill", "#555")
    .style("font-family", "'DejaVu Sans', Verdana, sans-serif")
    .style("font-size", "8.5px");

  let line = d3.line()
    .x(d => x(d[0]))
    .y(d => y(d[1]));

  g.append("path").datum(p.hpc)
    .attr("d", line)
    .attr("fill", "none")
    .attr("stroke", hpcColor)
    .attr("stroke-width", 1.15)
    .attr("stroke-linejoin", "round");

  g.append("path").datum(p.rsc)
    .attr("d", line)
    .attr("fill", "none")
    .attr("stroke", rscColor)
    .attr("stroke-width", 1.15)
    .attr("stroke-linejoin", "round");

  // panel letter
  svg.append("text")
    .attr("x", 91).attr("y", p.letterY)
    .text(panelLetters[i])
    .style("font-family", "'DejaVu Sans', sans-serif")
    .style("font-weight", "bold")
    .style("font-size", "34px")
    .attr("fill", "#000");

  // y label
  let cy = (p.top + p.bottom) / 2;
  svg.append("text")
    .attr("transform", "translate(122," + cy + ") rotate(-90)")
    .attr("text-anchor", "middle")
    .text(groupLabels[i])
    .style("font-family", "'Open Sans', sans-serif")
    .style("font-size", "20px")
    .attr("fill", "#000");
});

// legend
svg.append("text").attr("x", 153).attr("y", 25).text(seriesNames[0])
  .style("font-family", "'Open Sans', sans-serif").style("font-size", "18px").attr("fill", "#000");
svg.append("text").attr("x", 153).attr("y", 51).text(seriesNames[1])
  .style("font-family", "'Open Sans', sans-serif").style("font-size", "18px").attr("fill", rscColor);

// x label
svg.append("text")
  .attr("x", 648).attr("y", 932)
  .attr("text-anchor", "middle")
  .text("Time (ms)")
  .style("font-family", "'Open Sans', sans-serif")
  .style("font-size", "20px");

// bracket labels on the left
function bracket(xLine, yTop, yBottom, gapTop, gapBottom, tickLen, label, textX) {
  let b = svg.append("g").attr("stroke", "#333").attr("stroke-width", 1.2).attr("fill", "none");
  b.append("path").attr("d", "M" + (xLine + tickLen) + "," + yTop + "H" + xLine + "V" + gapTop);
  b.append("path").attr("d", "M" + xLine + "," + gapBottom + "V" + yBottom + "H" + (xLine + tickLen));
  svg.append("text")
    .attr("transform", "translate(" + textX + "," + ((gapTop + gapBottom) / 2) + ") rotate(-90)")
    .attr("text-anchor", "middle")
    .text(label)
    .style("font-family", "'Open Sans', sans-serif")
    .style("font-size", "20px");
}

bracket(19, 222, 662, 358, 541, 22, "Normalised LFP", 27);
bracket(64, 121, 347, 157, 283, 19, "Locomotion", 72);
bracket(63, 559, 791, 629, 693, 19, "REM", 72);
</script>
</body>
</html>
